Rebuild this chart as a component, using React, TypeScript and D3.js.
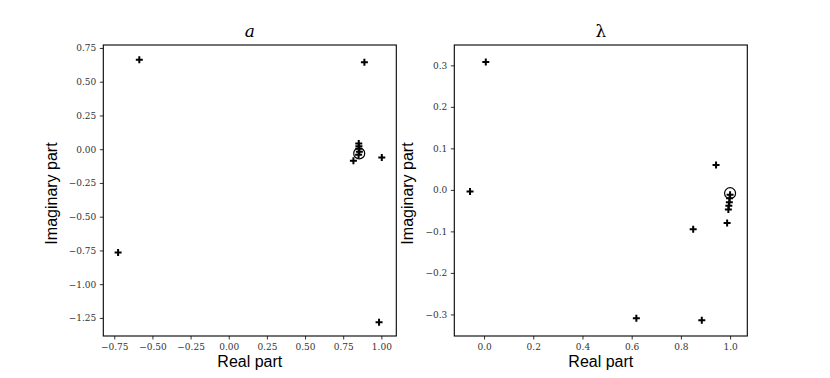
import React, { useEffect, useRef } from "react";
import * as d3 from "d3";

// eigenvalues of a (real, imaginary)
const aReal = [-0.586, 0.889, -0.725, 0.985, 1.003, 0.817, 0.852, 0.853, 0.852, 0.856, 0.851];
const aImag = [0.663, 0.644, -0.766, -1.283, -0.061, -0.086, 0.043, 0.022, 0.003, -0.018, -0.042];
const aCircle = [0.855, -0.031];

// eigenvalues of lambda
const lReal = [0.007, -0.057, 0.943, 0.85, 0.988, 0.619, 0.885, 1.0, 0.998, 0.997, 0.995, 0.993];
const lImag = [0.308, -0.004, 0.06, -0.095, -0.08, -0.309, -0.314, -0.012, -0.02, -0.03, -0.038, -0.047];
const lCircle = [1.0, -0.008];

const aXTicks = [-0.75, -0.5, -0.25, 0, 0.25, 0.5, 0.75, 1.0];
const aYTicks = [0.75, 0.5, 0.25, 0, -0.25, -0.5, -0.75, -1.0, -1.25];
const lXTicks = [0, 0.2, 0.4, 0.6, 0.8, 1.0];
const lYTicks = [0.3, 0.2, 0.1, 0, -0.1, -0.2, -0.3];

const fmt = (digits) => (d) => {
  const s = Math.abs(d).toFixed(digits);
  return d < 0 ? "\u2212" + s : s;
};

const panels = [
  {
    title: "a",
    left: 103.3,
    labelOffset: -46,
    xs: aReal,
    ys: aImag,
    circle: aCircle,
    xDomain: [-0.822, 1.098],
    yDomain: [-1.384, 0.772],
    xTicks: aXTicks,
    yTicks: aYTicks,
    digits: 2,
  },
  {
    title: "\u03bb",
    left: 454.3,
    labelOffset: -41,
    xs: lReal,
    ys: lImag,
    circle: lCircle,
    xDomain: [-0.121, 1.07],
    yDomain: [-0.352, 0.349],
    xTicks: lXTicks,
    yTicks: lYTicks,
    digits: 1,
  },
];

const App = () => {
  const ref = useRef(null);

  useEffect(() => {
    const svg = d3.select(ref.current);
    svg.selectAll("*").remove();

    const top = 45;
    const w = 293;
    const h = 291;

    panels.forEach((p) => {
      const g = svg.append("g").attr("transform", `translate(${p.left},${top})`);

      const x = d3.scaleLinear().domain(p.xDomain).range([0, w]);
      const y = d3.scaleLinear().domain(p.yDomain).range([h, 0]);

      const xAxis = g
        .append("g")
        .attr("transform", `translate(0,${h})`)
        .call(d3.axisBottom(x).tickValues(p.xTicks).tickSize(3.5).tickPadding(4).tickFormat(fmt(p.digits)));
      const yAxis = g
        .append("g")
        .call(d3.axisLeft(y).tickValues(p.yTicks).tickSize(3.5).tickPadding(3.5).tickFormat(fmt(p.digits)));

      [xAxis, yAxis].forEach((ax) => {
        ax.select(".domain").remove();
        ax.selectAll("line").attr("stroke", "#000").attr("stroke-width", 0.8);
        ax.selectAll("text")
          .attr("fill", "#333")
          .style("font-family", "'DejaVu Serif', serif")
          .style("font-size", "9px");
      });

      g.append("rect")
        .attr("width", w)
        .attr("height", h)
        .attr("fill", "none")
        .attr("stroke", "#000")
        .attr("stroke-width", 1.1);

      // plus markers
      const pts = p.xs.map((v, i) => [v, p.ys[i]]);
      const m = 3.5;
      g.selectAll(".pt")
        .data(pts)
        .enter()
        .append("path")
        .attr("class", "pt")
        .attr("d", (d) => {
          const cx = x(d[0]);
          const cy = y(d[1]);
          return `M${cx - m},${cy}H${cx + m}M${cx},${cy - m}V${cy + m}`;
        })
        .attr("stroke", "#000")
        .attr("stroke-width", 2)
        .attr("fill", "none");

      g.append("circle")
        .attr("cx", x(p.circle[0]))
        .attr("cy", y(p.circle[1]))
        .attr("r", 5.5)
        .attr("fill", "none")
        .attr("stroke", "#000")
        .attr("stroke-width", 1.2);

      g.append("text")
        .attr("x", w / 2)
        .attr("y", -8)
        .attr("text-anchor", "middle")
        .style("font-family", "'DejaVu Serif', serif")
        .style("font-style", p.title === "a" ? "italic" : "normal")
        .style("font-size", "17px")
        .text(p.title);

      g.append("text")
        .attr("x", w / 2)
        .attr("y", h + 31)
        .attr("text-anchor", "middle")
        .style("font-family", "'Liberation Sans', sans-serif")
        .style("font-size", "16px")
        .text("Real part");

      g.append("text")
        .attr("transform", `translate(${p.labelOffset},${h / 2 + 3}) rotate(-90)`)
        .attr("text-anchor", "middle")
        .style("font-family", "'Liberation Sans', sans-serif")
        .style("font-size", "16px")
        .text("Imaginary part");
    });
  }, []);

  return (
    <div style={{ margin: -8 }}>
      <svg ref={ref} width={830} height={378} style={{ display: "block", background: "#fff" }}></svg>
    </div>
  );
};

export default App;
